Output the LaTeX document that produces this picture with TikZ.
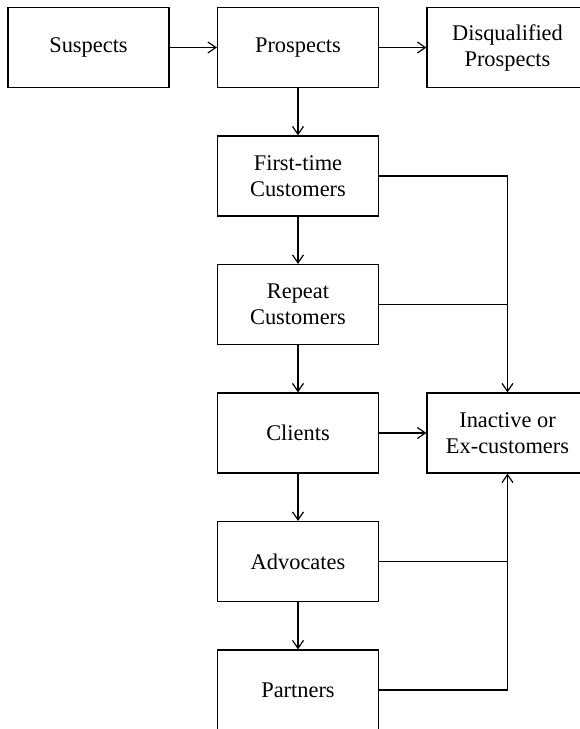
\documentclass[tikz,border=0pt]{standalone}
\usepackage{fontspec}
\setmainfont{Liberation Serif}
\usepackage{tikz}
\usetikzlibrary{positioning, arrows.meta}
\tikzset{
  stage/.style={rectangle, draw, line width=1.2pt, align=center,
                minimum width=161pt, minimum height=80pt, inner sep=2pt,
                font=\fontsize{22.4}{26}\selectfont},
  arr/.style={-{Straight Barb[length=8pt, width=11pt, line width=1.2pt]}, line width=1.2pt},
  ln/.style={line width=1.2pt},
}

\begin{document}
\begin{tikzpicture}[x=1pt, y=-1pt, node distance=47.3pt]
  \useasboundingbox (0,0) rectangle (580,729);
  % top row
  \node[stage] (sus) at (88.5,47.5) {Suspects};
  \node[stage, right=of sus] (pro) {Prospects};
  \node[stage, right=of pro] (dis) {Disqualified\\Prospects};
  % customer ladder
  \node[stage, below=of pro] (fir) {First-time\\Customers};
  \node[stage, below=of fir] (rep) {Repeat\\Customers};
  \node[stage, below=of rep] (cli) {Clients};
  \node[stage, right=of cli] (ina) {Inactive or\\Ex-customers};
  \node[stage, below=of cli] (adv) {Advocates};
  \node[stage, below=of adv] (par) {Partners};
  % junctions on the side line
  \coordinate (jrep) at (rep.east -| ina.north);
  \coordinate (jadv) at (adv.east -| ina.south);

  \draw[arr] (sus) -- (pro);
  \draw[arr] (pro) -- (dis);
  \draw[arr] (pro) -- (fir);
  \draw[arr] (fir) -- (rep);
  \draw[arr] (rep) -- (cli);
  \draw[arr] (cli) -- (adv);
  \draw[arr] (adv) -- (par);
  \draw[arr] (cli) -- (ina);
  \draw[arr] (fir.east) -| (ina.north);
  \draw[ln] (rep.east) -- (jrep);
  \draw[arr] (par.east) -| (ina.south);
  \draw[ln] (adv.east) -- (jadv);
\end{tikzpicture}
\end{document}
